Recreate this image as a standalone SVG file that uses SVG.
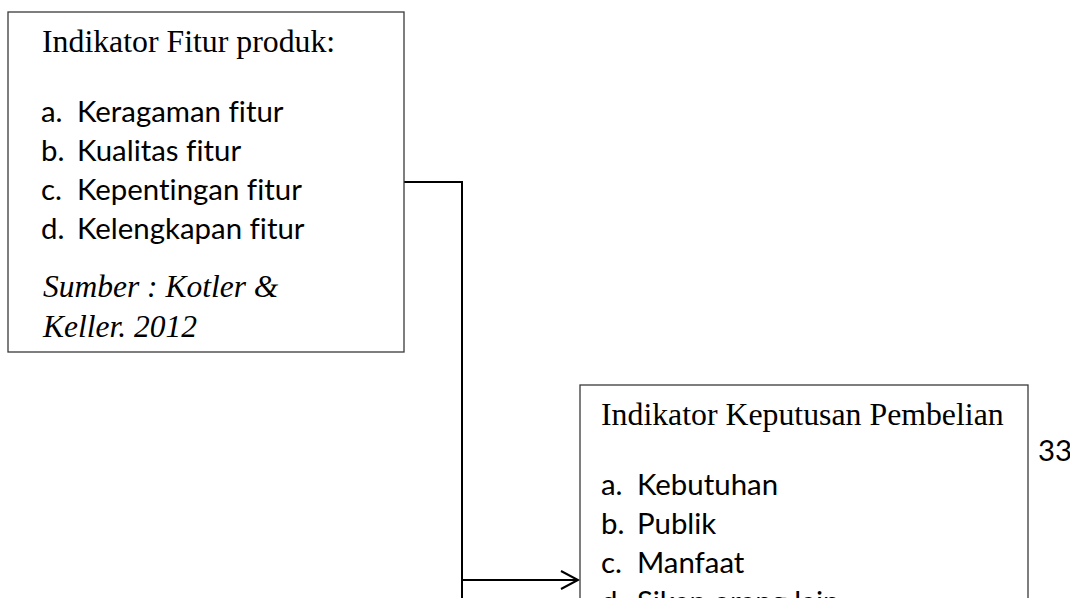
<svg xmlns="http://www.w3.org/2000/svg" width="1070" height="598" viewBox="0 0 1070 598">
  <style>
    .box { fill: #ffffff; stroke: #3a3a3a; stroke-width: 1.3; }
    .title { font-family: "Liberation Serif", "Times New Roman", serif; font-size: 31.8px; fill: #000; }
    .src { font-family: "Liberation Serif", "Times New Roman", serif; font-size: 31.5px; font-style: italic; fill: #000; }
    .item { font-family: Lato, "Open Sans", sans-serif; font-size: 29.4px; fill: #000; font-variant-ligatures: none; font-feature-settings: "liga" 0, "clig" 0; }
    .conn { fill: none; stroke: #000; stroke-width: 2; }
  </style>
  <defs>
    <marker id="open-arrow" markerUnits="userSpaceOnUse" markerWidth="24" markerHeight="24" refX="18" refY="10" orient="auto">
      <path d="M1,1 L18,10 L1,19" fill="none" stroke="#000" stroke-width="2"/>
    </marker>
  </defs>
  <rect width="1070" height="598" fill="#ffffff"/>

  <g id="connectors">
    <path class="conn" d="M404,182 H462 V598"/>
    <path class="conn" d="M462,580 H578" marker-end="url(#open-arrow)"/>
  </g>

  <g id="node-fitur-produk">
    <rect class="box" x="8" y="12" width="396" height="340"/>
    <text class="title" x="42" y="52">Indikator Fitur produk:</text>
    <text class="item" x="41" y="122">a.</text><text class="item" x="77" y="122">Keragaman fitur</text>
    <text class="item" x="41" y="161">b.</text><text class="item" x="77" y="161">Kualitas fitur</text>
    <text class="item" x="41" y="200">c.</text><text class="item" x="77" y="200">Kepentingan fitur</text>
    <text class="item" x="41" y="239">d.</text><text class="item" x="77" y="239">Kelengkapan fitur</text>
    <text class="src" x="43" y="297">Sumber : Kotler &amp;</text>
    <text class="src" x="43" y="337">Keller. 2012</text>
  </g>

  <g id="node-keputusan-pembelian">
    <rect class="box" x="580" y="385" width="448" height="230"/>
    <text class="title" x="601" y="425">Indikator Keputusan Pembelian</text>
    <text class="item" x="601" y="495">a.</text><text class="item" x="637" y="495">Kebutuhan</text>
    <text class="item" x="601" y="534">b.</text><text class="item" x="637" y="534">Publik</text>
    <text class="item" x="601" y="573">c.</text><text class="item" x="637" y="573">Manfaat</text>
    <text class="item" x="601" y="612">d.</text><text class="item" x="637" y="612">Sikap orang lain</text>
  </g>

  <g id="page-number">
    <text class="item" x="1038" y="461">33</text>
  </g>
</svg>
